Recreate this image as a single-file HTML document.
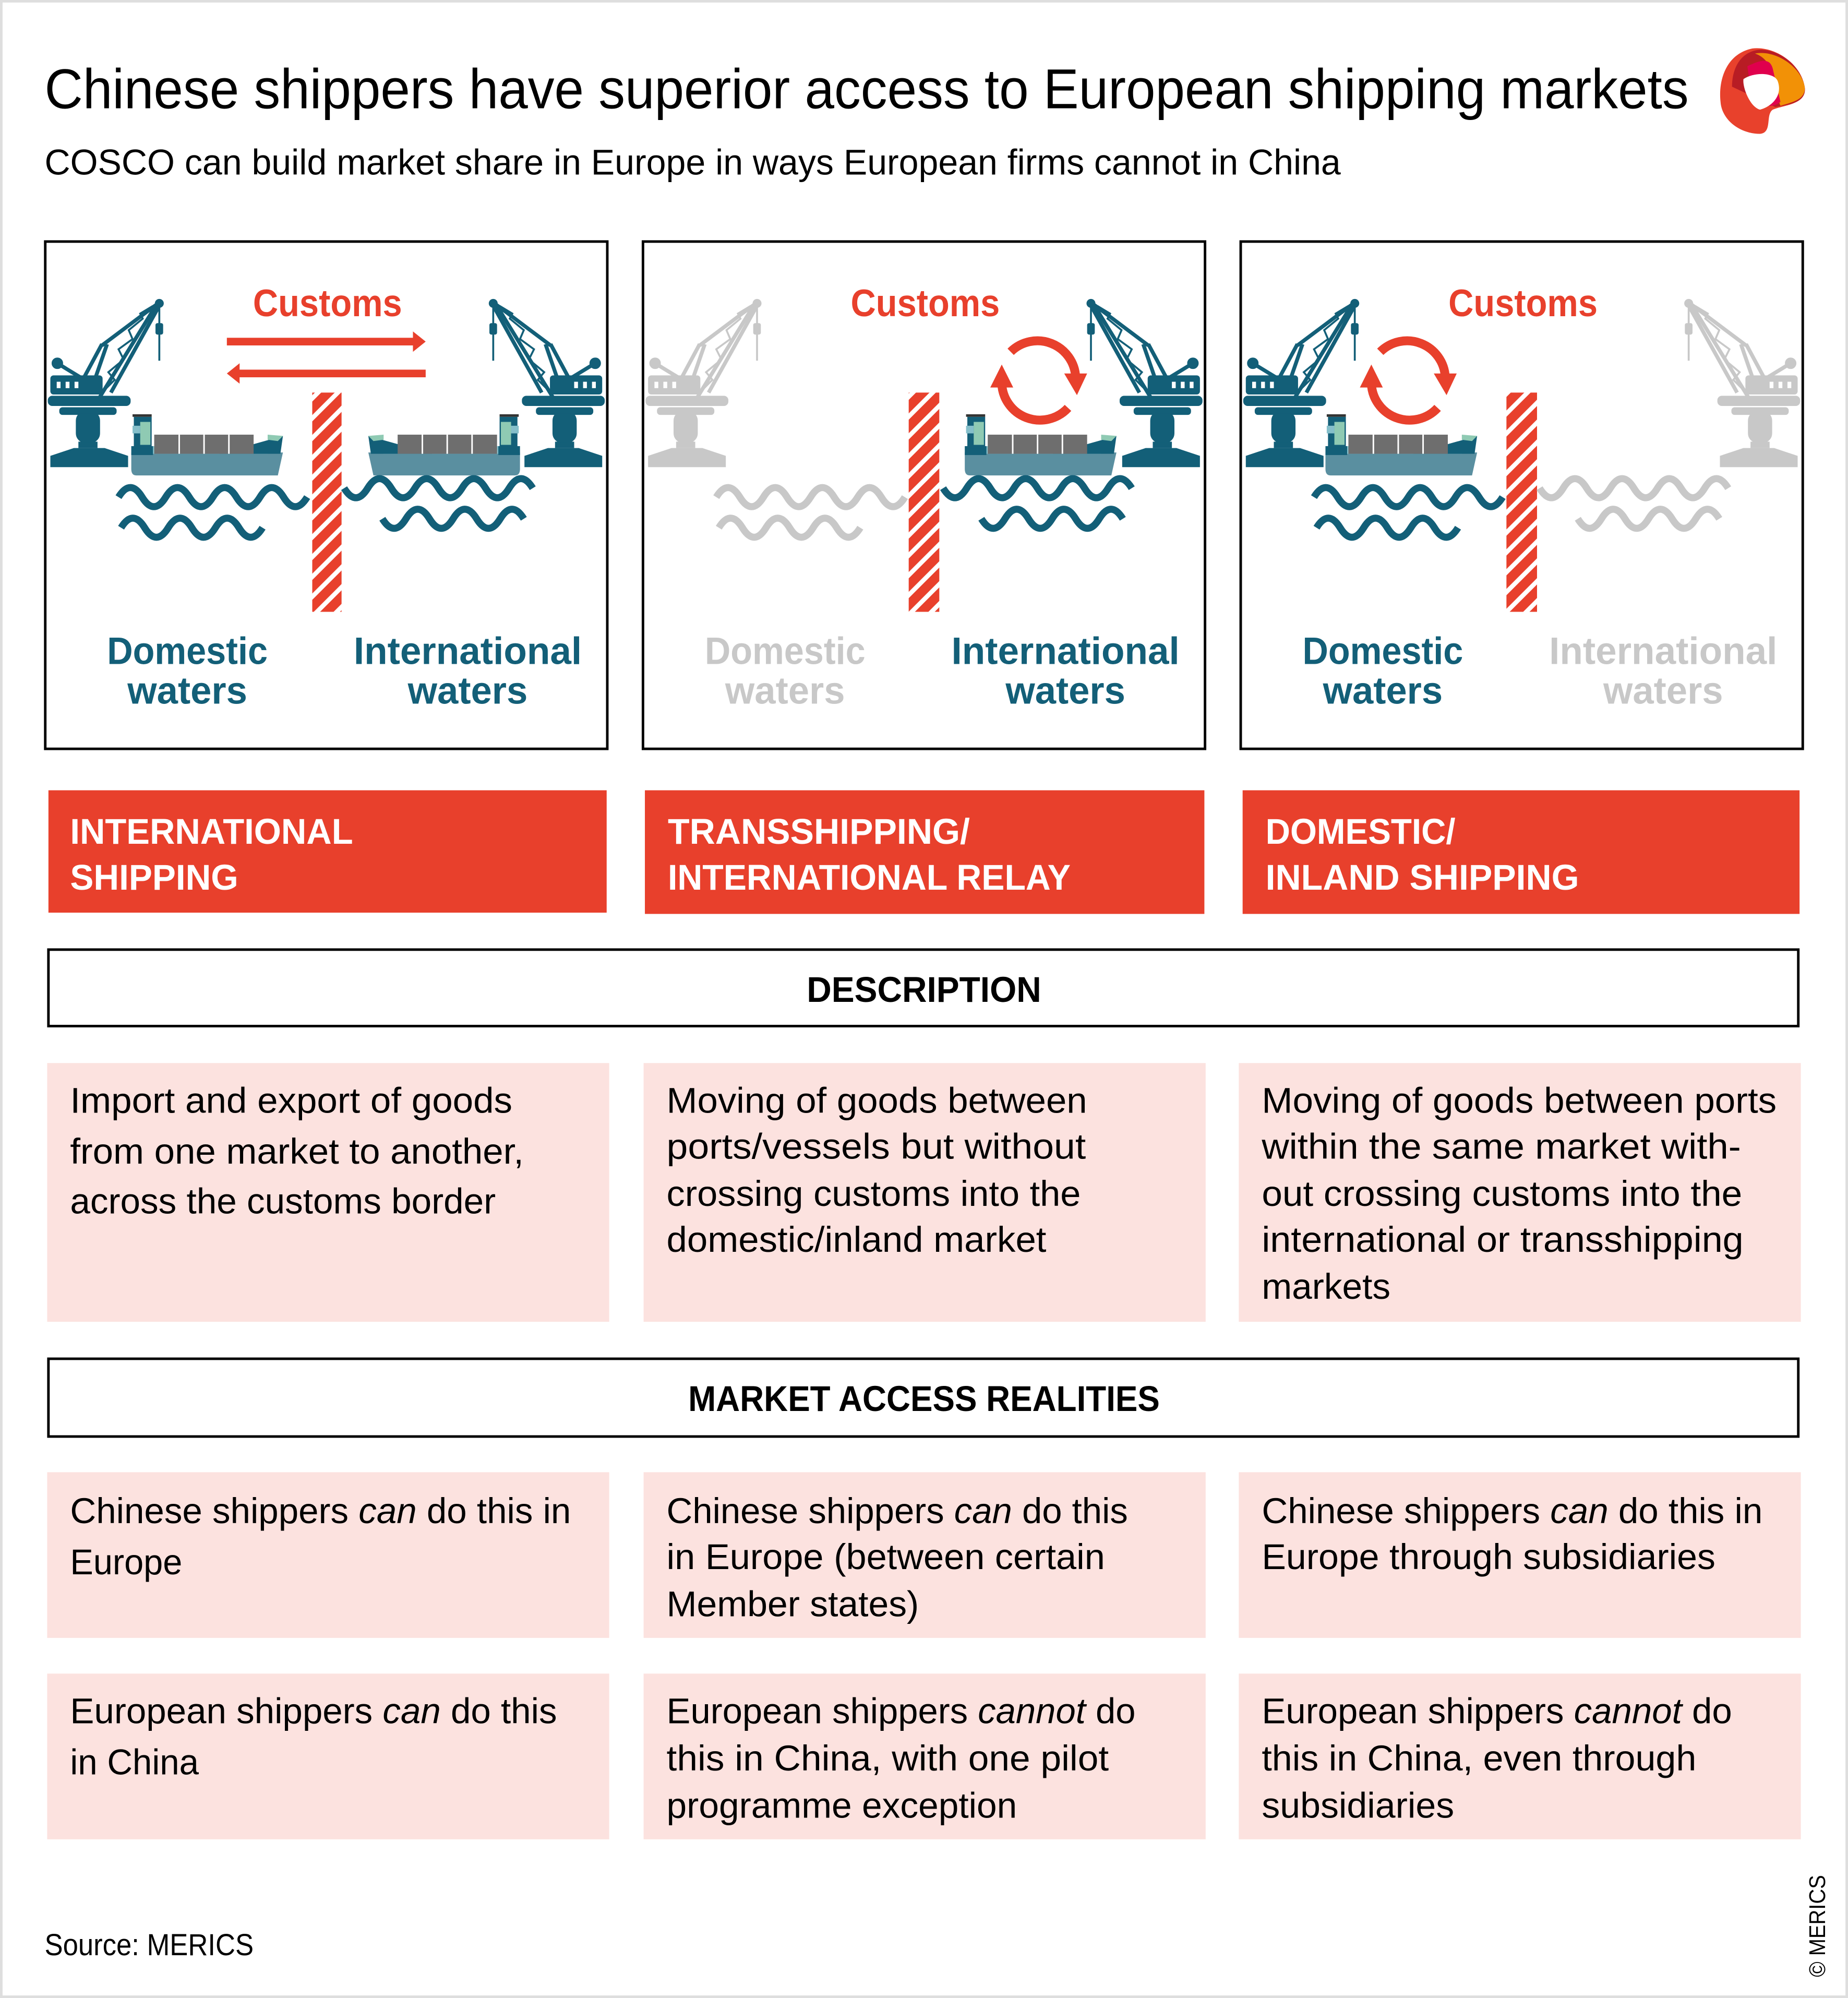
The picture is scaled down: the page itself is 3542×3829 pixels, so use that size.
<!DOCTYPE html>
<html><head><meta charset="utf-8"><style>html,body{margin:0;padding:0;background:#fff}svg{display:block}</style></head>
<body>
<svg xmlns="http://www.w3.org/2000/svg" xmlns:xlink="http://www.w3.org/1999/xlink" width="3542" height="3829" viewBox="0 0 1450 1567.5" font-family="'Liberation Sans', sans-serif">
<defs>
<pattern id="str" width="11" height="11" patternUnits="userSpaceOnUse" patternTransform="rotate(45)">
<rect width="11" height="11" fill="#fff"/><rect width="7.5" height="11" fill="#e8402c"/>
</pattern>
<g id="crane">
<polygon points="40,366 100,366 100,358 82,352 58,352 40,358"/>
<rect x="62" y="347" width="14" height="4"/>
<rect x="60" y="323" width="18" height="24" rx="7"/>
<rect x="47" y="320" width="44" height="5" rx="2"/>
<rect x="38" y="311" width="64" height="7" rx="3"/>
<rect x="40" y="295" width="40" height="14" rx="2"/>
<rect x="44" y="299" width="4" height="6" fill="#fff"/><rect x="51" y="299" width="4" height="6" fill="#fff"/><rect x="58" y="299" width="4" height="6" fill="#fff"/>
<g stroke-width="3" fill="none" stroke="inherit">
<line x1="63" y1="296" x2="45" y2="285"/>
<line x1="66" y1="296" x2="80" y2="270"/>
<line x1="75" y1="296" x2="84" y2="270"/>
<line x1="78" y1="312" x2="124" y2="237"/>
<line x1="87" y1="308" x2="126" y2="238"/>
<line x1="80" y1="271" x2="124" y2="238"/>
<polyline points="80,308 90,298 85,292 97,282 93,274 104,266 101,259 112,250 110,246 120,240" stroke-width="1.5"/>
<line x1="125" y1="238" x2="125" y2="283" stroke-width="1.5"/>
</g>
<circle cx="45" cy="285" r="4"/>
<circle cx="125" cy="238" r="3"/>
<rect x="122.5" y="254" width="5" height="8" rx="1"/>
</g>
<g id="ship">
<path d="M103,355 L222,355 L218,373 L107,373 Q103,373 103,368 Z" fill="#5a8fa0"/>
<rect x="118" y="350" width="92" height="6" fill="#85bfca"/>
<polygon points="172,356 222,342 220,356" fill="#135f78"/>
<polygon points="210,341 222,342 218,346 210,345" fill="#8fcab3"/>
<rect x="103" y="350" width="17" height="7" fill="#135f78"/>
<rect x="121" y="341" width="78" height="15" fill="#6e6e6e"/>
<rect x="140" y="341" width="1.2" height="15" fill="#fff"/><rect x="159.5" y="341" width="1.2" height="15" fill="#fff"/><rect x="179" y="341" width="1.2" height="15" fill="#fff"/>
<rect x="105" y="327" width="14" height="25" fill="#135f78"/>
<rect x="110" y="331" width="8" height="18" fill="#8fcab3"/>
<rect x="104" y="334" width="6" height="6" fill="#85bfca"/>
<rect x="104" y="325" width="15" height="2" fill="#333"/>
</g>
</defs>
<rect x="1" y="1" width="1448" height="1565.5" fill="#fff" stroke="#dedede" stroke-width="2"/>

<text x="35" y="85" font-size="44" textLength="1290" lengthAdjust="spacingAndGlyphs" fill="#000">Chinese shippers have superior access to European shipping markets</text>
<text x="35" y="137" font-size="28" textLength="1017" lengthAdjust="spacingAndGlyphs" fill="#000">COSCO can build market share in Europe in ways European firms cannot in China</text>
<g transform="translate(1383,72)">
<path d="M-33,8 C-35,-10 -28,-30 -8,-34 C10,-36 30,-22 33,-4 C35,10 18,10 8,14 C2,18 8,32 -2,33 C-18,33 -32,22 -33,8Z" fill="#e8412c"/>
<path d="M-24,-4 C-24,-20 -16,-32 -2,-33 C14,-33 30,-20 33,-4 C35,8 22,10 10,12 Z" fill="#b81c24"/>
<path d="M-6,-30 C10,-33 30,-20 33,-4 C34,6 24,8 14,11 L8,-5 C8,-14 6,-26 -6,-30Z" fill="#f29106"/>
<path d="M-12,-20 C0,-26 6,-26 8,-18 L14,8 C6,14 0,10 -8,6 Z" fill="#e0004d"/>
<path d="M-15,-10 C-6,-16 10,-15 12,-8 C16,4 6,12 -2,14 C-10,12 -16,-4 -15,-10Z" fill="#fff"/>
</g>

<g fill="none" stroke="#000" stroke-width="2">
<rect x="35.5" y="189.5" width="441" height="398"/>
<rect x="504.5" y="189.5" width="441" height="398"/>
<rect x="973.5" y="189.5" width="441" height="398"/>
</g>

<g font-weight="bold" font-size="30" text-anchor="middle" fill="#e8402c">
<text x="257" y="248" textLength="117" lengthAdjust="spacingAndGlyphs">Customs</text>
<text x="726" y="248" textLength="117" lengthAdjust="spacingAndGlyphs">Customs</text>
<text x="1195" y="248" textLength="117" lengthAdjust="spacingAndGlyphs">Customs</text>
</g>

<rect x="178" y="265" width="148" height="6" fill="#e8402c"/><polygon points="324,260 334,268 324,276" fill="#e8402c"/>
<rect x="186" y="290" width="148" height="6" fill="#e8402c"/><polygon points="188,285 178,293 188,301" fill="#e8402c"/>
<use xlink:href="#crane" fill="#135f78" stroke="#135f78"/>
<use xlink:href="#crane" fill="#135f78" stroke="#135f78" transform="translate(512,0) scale(-1,1)"/>
<use xlink:href="#ship"/>
<use xlink:href="#ship" transform="translate(511,0) scale(-1,1)"/>
<rect x="245" y="308" width="23" height="172" fill="url(#str)"/>

<use xlink:href="#crane" fill="#c8c8c8" stroke="#c8c8c8" transform="translate(469,0)"/>
<use xlink:href="#crane" fill="#135f78" stroke="#135f78" transform="translate(981,0) scale(-1,1)"/>
<use xlink:href="#ship" transform="translate(654,0)"/>
<rect x="713" y="308" width="24" height="172" fill="url(#str)"/>

<use xlink:href="#crane" fill="#135f78" stroke="#135f78" transform="translate(938,0)"/>
<use xlink:href="#crane" fill="#c8c8c8" stroke="#c8c8c8" transform="translate(1450,0) scale(-1,1)"/>
<use xlink:href="#ship" transform="translate(937,0)"/>
<rect x="1182" y="308" width="24" height="172" fill="url(#str)"/>

<g fill="none" stroke="#e8402c" stroke-width="7">
<path d="M793,276 A30 30 0 0 1 844,296"/>
<path d="M838,320 A30 30 0 0 1 786,300"/>
<path d="M1083,276 A30 30 0 0 1 1134,296"/>
<path d="M1128,320 A30 30 0 0 1 1076,300"/>
</g>
<g fill="#e8402c">
<polygon points="835,293 853,293 845,310"/>
<polygon points="777,304 795,304 786,286"/>
<polygon points="1125,293 1143,293 1135,310"/>
<polygon points="1067,304 1085,304 1076,286"/>
</g>

<g fill="none" stroke-width="5.5">
<g stroke="#135f78">
<path d="M93,390 q9.25,-15 18.5,0 t18.5,0 t18.5,0 t18.5,0 t18.5,0 t18.5,0 t18.5,0 t18.5,0"/>
<path d="M95,414 q9.25,-15 18.5,0 t18.5,0 t18.5,0 t18.5,0 t18.5,0 t18.5,0"/>
<path d="M270,383 q9.25,15 18.5,0 t18.5,0 t18.5,0 t18.5,0 t18.5,0 t18.5,0 t18.5,0 t18.5,0"/>
<path d="M300,407 q9.25,15 18.5,0 t18.5,0 t18.5,0 t18.5,0 t18.5,0 t18.5,0"/>
<path d="M740,383 q9.25,15 18.5,0 t18.5,0 t18.5,0 t18.5,0 t18.5,0 t18.5,0 t18.5,0 t18.5,0"/>
<path d="M770,407 q9.25,15 18.5,0 t18.5,0 t18.5,0 t18.5,0 t18.5,0 t18.5,0"/>
<path d="M1031,390 q9.25,-15 18.5,0 t18.5,0 t18.5,0 t18.5,0 t18.5,0 t18.5,0 t18.5,0 t18.5,0"/>
<path d="M1033,414 q9.25,-15 18.5,0 t18.5,0 t18.5,0 t18.5,0 t18.5,0 t18.5,0"/>
</g>
<g stroke="#c8c8c8">
<path d="M562,390 q9.25,-15 18.5,0 t18.5,0 t18.5,0 t18.5,0 t18.5,0 t18.5,0 t18.5,0 t18.5,0"/>
<path d="M564,414 q9.25,-15 18.5,0 t18.5,0 t18.5,0 t18.5,0 t18.5,0 t18.5,0"/>
<path d="M1208,383 q9.25,15 18.5,0 t18.5,0 t18.5,0 t18.5,0 t18.5,0 t18.5,0 t18.5,0 t18.5,0"/>
<path d="M1238,407 q9.25,15 18.5,0 t18.5,0 t18.5,0 t18.5,0 t18.5,0 t18.5,0"/>
</g>
</g>

<g font-weight="bold" font-size="30" text-anchor="middle">
<g fill="#135f78">
<text x="147" y="521" textLength="126" lengthAdjust="spacingAndGlyphs">Domestic</text>
<text x="147" y="552" textLength="94" lengthAdjust="spacingAndGlyphs">waters</text>
<text x="367" y="521" textLength="179" lengthAdjust="spacingAndGlyphs">International</text>
<text x="367" y="552" textLength="94" lengthAdjust="spacingAndGlyphs">waters</text>
<text x="836" y="521" textLength="179" lengthAdjust="spacingAndGlyphs">International</text>
<text x="836" y="552" textLength="94" lengthAdjust="spacingAndGlyphs">waters</text>
<text x="1085" y="521" textLength="126" lengthAdjust="spacingAndGlyphs">Domestic</text>
<text x="1085" y="552" textLength="94" lengthAdjust="spacingAndGlyphs">waters</text>
</g>
<g fill="#c8c8c8">
<text x="616" y="521" textLength="126" lengthAdjust="spacingAndGlyphs">Domestic</text>
<text x="616" y="552" textLength="94" lengthAdjust="spacingAndGlyphs">waters</text>
<text x="1305" y="521" textLength="179" lengthAdjust="spacingAndGlyphs">International</text>
<text x="1305" y="552" textLength="94" lengthAdjust="spacingAndGlyphs">waters</text>
</g>
</g>

<g fill="#e8402c">
<rect x="38" y="620" width="438" height="96"/>
<rect x="506" y="620" width="439" height="97"/>
<rect x="975" y="620" width="437" height="97"/>
</g>
<g fill="#fff" font-weight="bold" font-size="28">
<text x="55" y="662" textLength="222" lengthAdjust="spacingAndGlyphs">INTERNATIONAL</text>
<text x="55" y="698" textLength="132" lengthAdjust="spacingAndGlyphs">SHIPPING</text>
<text x="524" y="662" textLength="237" lengthAdjust="spacingAndGlyphs">TRANSSHIPPING/</text>
<text x="524" y="698" textLength="316" lengthAdjust="spacingAndGlyphs">INTERNATIONAL RELAY</text>
<text x="993" y="662" textLength="149" lengthAdjust="spacingAndGlyphs">DOMESTIC/</text>
<text x="993" y="698" textLength="246" lengthAdjust="spacingAndGlyphs">INLAND SHIPPING</text>
</g>

<rect x="38" y="745" width="1373" height="60" fill="none" stroke="#000" stroke-width="2"/>
<rect x="38" y="1066" width="1373" height="61" fill="none" stroke="#000" stroke-width="2"/>
<g font-weight="bold" font-size="28" text-anchor="middle">
<text x="725" y="786" textLength="184" lengthAdjust="spacingAndGlyphs">DESCRIPTION</text>
<text x="725" y="1107" textLength="370" lengthAdjust="spacingAndGlyphs">MARKET ACCESS REALITIES</text>
</g>

<g fill="#fce2df">
<rect x="37" y="834" width="441" height="203"/>
<rect x="505" y="834" width="441" height="203"/>
<rect x="972" y="834" width="441" height="203"/>
<rect x="37" y="1155" width="441" height="130"/>
<rect x="505" y="1155" width="441" height="130"/>
<rect x="972" y="1155" width="441" height="130"/>
<rect x="37" y="1313" width="441" height="130"/>
<rect x="505" y="1313" width="441" height="130"/>
<rect x="972" y="1313" width="441" height="130"/>
</g>

<g font-size="28" fill="#000">
<text x="55" y="873" textLength="347" lengthAdjust="spacingAndGlyphs">Import and export of goods</text>
<text x="55" y="913" textLength="356" lengthAdjust="spacingAndGlyphs">from one market to another,</text>
<text x="55" y="952" textLength="334" lengthAdjust="spacingAndGlyphs">across the customs border</text>

<text x="523" y="873" textLength="330" lengthAdjust="spacingAndGlyphs">Moving of goods between</text>
<text x="523" y="909" textLength="329" lengthAdjust="spacingAndGlyphs">ports/vessels but without</text>
<text x="523" y="946" textLength="325" lengthAdjust="spacingAndGlyphs">crossing customs into the</text>
<text x="523" y="982" textLength="298" lengthAdjust="spacingAndGlyphs">domestic/inland market</text>

<text x="990" y="873" textLength="404" lengthAdjust="spacingAndGlyphs">Moving of goods between ports</text>
<text x="990" y="909" textLength="376" lengthAdjust="spacingAndGlyphs">within the same market with-</text>
<text x="990" y="946" textLength="377" lengthAdjust="spacingAndGlyphs">out crossing customs into the</text>
<text x="990" y="982" textLength="378" lengthAdjust="spacingAndGlyphs">international or transshipping</text>
<text x="990" y="1019" textLength="101" lengthAdjust="spacingAndGlyphs">markets</text>

<text x="55" y="1195" textLength="393" lengthAdjust="spacingAndGlyphs">Chinese shippers <tspan font-style="italic">can</tspan> do this in</text>
<text x="55" y="1235" textLength="88" lengthAdjust="spacingAndGlyphs">Europe</text>

<text x="523" y="1195" textLength="362" lengthAdjust="spacingAndGlyphs">Chinese shippers <tspan font-style="italic">can</tspan> do this</text>
<text x="523" y="1231" textLength="344" lengthAdjust="spacingAndGlyphs">in Europe (between certain</text>
<text x="523" y="1268" textLength="198" lengthAdjust="spacingAndGlyphs">Member states)</text>

<text x="990" y="1195" textLength="393" lengthAdjust="spacingAndGlyphs">Chinese shippers <tspan font-style="italic">can</tspan> do this in</text>
<text x="990" y="1231" textLength="356" lengthAdjust="spacingAndGlyphs">Europe through subsidiaries</text>

<text x="55" y="1352" textLength="382" lengthAdjust="spacingAndGlyphs">European shippers <tspan font-style="italic">can</tspan> do this</text>
<text x="55" y="1392" textLength="101" lengthAdjust="spacingAndGlyphs">in China</text>

<text x="523" y="1352" textLength="368" lengthAdjust="spacingAndGlyphs">European shippers <tspan font-style="italic">cannot</tspan> do</text>
<text x="523" y="1389" textLength="347" lengthAdjust="spacingAndGlyphs">this in China, with one pilot</text>
<text x="523" y="1426" textLength="275" lengthAdjust="spacingAndGlyphs">programme exception</text>

<text x="990" y="1352" textLength="369" lengthAdjust="spacingAndGlyphs">European shippers <tspan font-style="italic">cannot</tspan> do</text>
<text x="990" y="1389" textLength="341" lengthAdjust="spacingAndGlyphs">this in China, even through</text>
<text x="990" y="1426" textLength="151" lengthAdjust="spacingAndGlyphs">subsidiaries</text>
</g>

<text x="35" y="1534" font-size="24" textLength="164" lengthAdjust="spacingAndGlyphs">Source: MERICS</text>
<text transform="translate(1432,1551) rotate(-90)" font-size="18" textLength="80" lengthAdjust="spacingAndGlyphs">© MERICS</text>
</svg>
</body></html>
